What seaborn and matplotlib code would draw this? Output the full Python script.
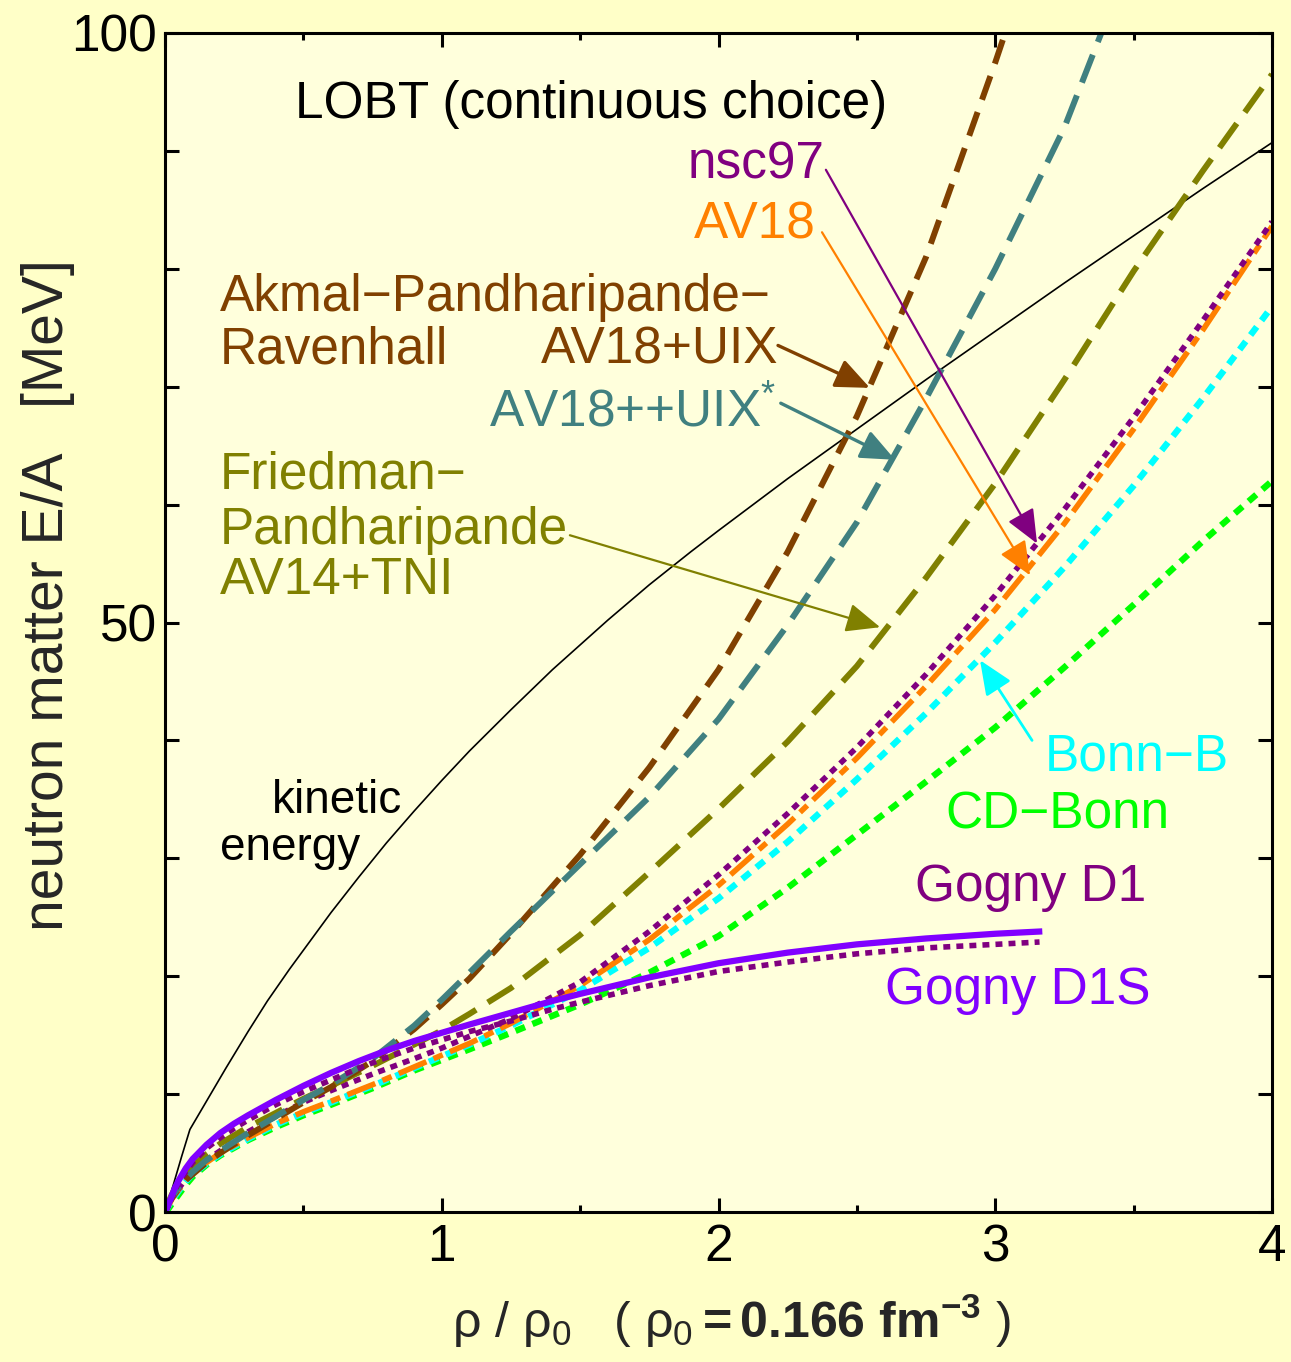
import matplotlib
matplotlib.use("Agg")
import matplotlib.pyplot as plt
import seaborn as sns
import pandas as pd

# ---------------- data ----------------
kin_x = [0, 0.03, 0.06, 0.09, 0.15, 0.22, 0.3, 0.37, 0.45, 0.5, 0.6, 0.7, 0.8, 0.9, 1.0, 1.1, 1.25,
         1.4, 1.5, 1.6, 1.75, 1.9, 2.0, 2.25, 2.5, 2.75, 3.0, 3.25, 3.5, 3.75, 4.0]
kin_y = [0, 2.3, 4.7, 7.0, 9.4, 12.2, 15.3, 17.9, 20.6, 22.2, 25.4, 28.4, 31.3, 34.0, 36.6, 39.1, 42.6,
         46.0, 48.1, 50.2, 53.2, 56.0, 57.8, 62.2, 66.4, 70.6, 74.7, 78.8, 82.8, 86.8, 90.7]

grid_x = [0, 0.01, 0.025, 0.05, 0.075, 0.1, 0.15, 0.2, 0.3, 0.4, 0.5, 0.6, 0.75, 0.9, 1.0, 1.1, 1.25,
          1.5, 1.75, 2.0, 2.25, 2.5, 2.75, 3.0, 3.25, 3.5, 3.75, 4.0]

apr_x = [0, 0.01, 0.025, 0.05, 0.075, 0.1, 0.15, 0.2, 0.3, 0.4, 0.5, 0.6, 0.75, 0.9, 1.0, 1.1, 1.25,
         1.5, 1.75, 2.0, 2.25, 2.5, 2.75, 3.0, 3.05]
apr_y = [0, 0.6, 1.2, 2.0, 2.7, 3.2, 4.2, 5.0, 6.5, 7.9, 9.3, 10.6, 12.8, 15.5, 17.6, 19.8, 23.6,
         30.3, 37.7, 46.0, 56.0, 67.5, 81.0, 97.5, 101.0]

av18s_x = [0, 0.01, 0.025, 0.05, 0.075, 0.1, 0.15, 0.2, 0.3, 0.4, 0.5, 0.6, 0.75, 0.9, 1.0, 1.1, 1.25,
           1.5, 1.75, 2.0, 2.25, 2.5, 2.75, 3.0, 3.25, 3.4]
av18s_y = [0, 0.6, 1.3, 2.1, 2.8, 3.4, 4.4, 5.2, 6.7, 8.1, 9.5, 10.8, 13.0, 15.8, 18.0, 20.3, 23.8,
           29.5, 35.2, 41.8, 49.8, 58.5, 69.0, 80.0, 92.0, 101.0]

fp_x = grid_x
fp_y = [0, 0.7, 1.5, 2.4, 3.2, 3.9, 4.9, 5.8, 7.2, 8.4, 9.6, 10.7, 12.4, 14.2, 15.4, 16.8, 19.0,
        23.5, 28.8, 34.2, 39.9, 46.3, 53.8, 61.8, 70.6, 79.8, 88.3, 96.5]

nsc_x = grid_x
nsc_y = [0, 0.5, 1.2, 2.0, 2.8, 3.5, 4.4, 5.2, 6.8, 8.1, 9.3, 10.3, 11.7, 13.0, 13.9, 14.9, 16.4,
         19.5, 23.8, 28.6, 33.8, 39.4, 45.6, 52.3, 59.6, 67.4, 75.6, 84.0]

av18_x = grid_x
av18_y = [0, 0.4, 1.1, 1.9, 2.7, 3.3, 4.2, 5.0, 6.3, 7.5, 8.5, 9.4, 10.8, 12.3, 13.3, 14.3, 16.0,
          19.2, 23.1, 27.7, 32.9, 38.5, 44.6, 51.1, 58.4, 66.4, 74.8, 83.6]

bonnb_x = grid_x
bonnb_y = [0, 0.4, 1.0, 1.8, 2.6, 3.2, 4.1, 4.9, 6.2, 7.4, 8.4, 9.3, 10.7, 12.2, 13.2, 14.2, 15.8,
           18.8, 22.4, 26.6, 31.4, 36.7, 42.3, 48.3, 54.7, 61.6, 69.0, 76.8]

cdb_x = grid_x
cdb_y = [0, 0.2, 0.7, 1.5, 2.3, 3.0, 4.0, 4.8, 6.1, 7.2, 8.2, 9.1, 10.5, 12.0, 12.9, 13.8, 15.2,
         17.6, 20.3, 23.4, 27.5, 32.0, 36.5, 41.1, 46.2, 51.5, 56.9, 62.0]

d1s_x = [0, 0.01, 0.02, 0.035, 0.05, 0.075, 0.1, 0.15, 0.2, 0.25, 0.3, 0.4, 0.5, 0.6, 0.7, 0.8, 0.9,
         1.0, 1.1, 1.25, 1.4, 1.5, 1.75, 2.0, 2.25, 2.5, 2.75, 3.0, 3.17]
d1s_y = [0, 0.5, 1.1, 2.0, 2.7, 3.7, 4.5, 5.7, 6.7, 7.5, 8.2, 9.5, 10.7, 11.8, 12.8, 13.7, 14.5,
         15.2, 15.9, 16.9, 17.9, 18.5, 19.9, 21.1, 22.0, 22.7, 23.2, 23.6, 23.8]

d1_x = [0, 0.01, 0.02, 0.035, 0.05, 0.075, 0.1, 0.15, 0.2, 0.25, 0.3, 0.4, 0.5, 0.6, 0.7, 0.8, 0.9,
        1.0, 1.1, 1.25, 1.4, 1.5, 1.75, 2.0, 2.25, 2.5, 2.75, 3.0, 3.16]
d1_y = [0, 0.4, 0.9, 1.8, 2.5, 3.4, 4.2, 5.4, 6.3, 7.1, 7.8, 9.1, 10.2, 11.2, 12.2, 13.1, 13.9,
        14.6, 15.3, 16.2, 17.2, 17.8, 19.2, 20.4, 21.2, 21.9, 22.4, 22.7, 22.9]

x_ticks = [0, 1, 2, 3, 4]
x_minor = [0.5, 1.5, 2.5, 3.5]
y_ticks = [0, 50, 100]
y_minor = [10, 20, 30, 40, 60, 70, 80, 90]

# ---------------- style ----------------
sns.set_style("ticks")
plt.rcParams['font.family'] = ['Liberation Sans', 'DejaVu Sans']
plt.rcParams['mathtext.fontset'] = 'custom'
plt.rcParams['mathtext.rm'] = 'Liberation Sans'
plt.rcParams['mathtext.it'] = 'Liberation Sans:italic'
plt.rcParams['mathtext.bf'] = 'Liberation Sans:bold'

FIG_BG = '#FFFFC8'
AX_BG = '#FFFFDC'

fig = plt.figure(figsize=(12.91, 13.62), dpi=100, facecolor=FIG_BG)
ax = fig.add_axes([165/1291, 1 - 1212/1362, (1272-165)/1291, (1212-33)/1362])
ax.set_facecolor(AX_BG)

def draw(xs, ys, color, lw, dashes=None):
    df = pd.DataFrame({'x': xs, 'y': ys})
    sns.lineplot(data=df, x='x', y='y', ax=ax, color=color, linewidth=lw,
                 sort=False, estimator=None, legend=False)
    ln = ax.lines[-1]
    if dashes is not None:
        ln.set_dashes(dashes)
    ln.set_dash_capstyle('butt')
    ln.set_solid_capstyle('butt')
    ln.set_solid_joinstyle('round')
    return ln

draw(kin_x, kin_y, 'black', 1.2)
draw(cdb_x, cdb_y, '#00FF00', 4.6, (1.6, 1.25))
draw(bonnb_x, bonnb_y, '#00FFFF', 4.6, (1.6, 1.25))
draw(av18_x, av18_y, '#FF8000', 4.0, (5.4, 1.4, 1.8, 1.4))
draw(nsc_x, nsc_y, '#800080', 4.0, (1.25, 1.1))
draw(fp_x, fp_y, '#808000', 4.3, (5.0, 2.3))
draw(apr_x, apr_y, '#804000', 4.3, (4.2, 2.2))
draw(av18s_x, av18s_y, '#408080', 4.3, (5.0, 2.3))
draw(d1_x, d1_y, '#800080', 4.0, (1.25, 1.1))
draw(d1s_x, d1s_y, '#8000FF', 4.5)

ax.set_xlim(0, 4)
ax.set_ylim(0, 100)
ax.set_xticks(x_ticks)
ax.set_xticks(x_minor, minor=True)
ax.set_yticks(y_ticks)
ax.set_yticks(y_minor, minor=True)
ax.set_xticklabels([str(t) for t in x_ticks])
ax.set_yticklabels([str(t) for t in y_ticks])
ax.tick_params(which='both', direction='in', top=True, right=True, width=2.2, colors='black')
ax.tick_params(axis='x', which='major', length=10, labelsize=37, pad=8)
ax.tick_params(axis='x', which='minor', length=5)
ax.tick_params(axis='y', which='both', length=10, labelsize=37, pad=6)
for s in ax.spines.values():
    s.set_linewidth(2.2)
    s.set_color('black')
ax.set_xlabel('')
ax.set_ylabel('')

ax.text(-0.106, 0.523, 'neutron matter E/A   [MeV]', rotation=90, transform=ax.transAxes,
        ha='center', va='center', fontsize=41)
ax.text(0.512, -0.092, r'$\mathrm{ρ\ /\ ρ_0\ \ \ (\ ρ_0}\mathbf{=0.166\ fm^{-3}}\mathrm{\ )}$',
        transform=ax.transAxes, ha='center', va='center', fontsize=36)

FS = 37
def label(x, y, s, color, ha='left', fs=FS):
    ax.text(x, y, s, color=color, fontsize=fs, ha=ha, va='center')

label(1.54, 93.9, 'LOBT (continuous choice)', 'black', 'center')
label(2.385, 88.8, 'nsc97', '#800080', 'right')
label(2.35, 83.7, 'AV18', '#FF8000', 'right')
label(0.199, 77.6, 'Akmal\u2212Pandharipande\u2212', '#804000')
label(0.199, 73.1, 'Ravenhall', '#804000')
label(2.215, 73.1, 'AV18+UIX', '#804000', 'right')
label(2.21, 67.8, r'AV18++UIX$^{*}$', '#408080', 'right')
label(0.199, 62.5, 'Friedman\u2212', '#808000')
label(0.199, 57.8, 'Pandharipande', '#808000')
label(0.199, 53.6, 'AV14+TNI', '#808000')
label(0.387, 34.9, 'kinetic', 'black', fs=33)
label(0.199, 30.9, 'energy', 'black', fs=33)
label(3.18, 38.6, 'Bonn\u2212B', '#00FFFF')
label(2.818, 33.7, 'CD\u2212Bonn', '#00FF00')
label(2.71, 27.5, 'Gogny D1', '#800080')
label(2.60, 18.8, 'Gogny D1S', '#8000FF')

def arrow(x0, y0, x1, y1, color, lw):
    ax.annotate('', xy=(x1, y1), xytext=(x0, y0),
                arrowprops=dict(arrowstyle='-|>,head_length=0.7,head_width=0.3',
                                color=color, lw=lw, shrinkA=0, shrinkB=0,
                                mutation_scale=30))

arrow(2.388, 88.4, 3.151, 56.7, '#800080', 1.6)
arrow(2.374, 83.1, 3.126, 54.0, '#FF8000', 1.6)
arrow(2.215, 73.5, 2.547, 69.9, '#804000', 2.4)
arrow(2.225, 68.6, 2.638, 63.8, '#408080', 2.4)
arrow(1.463, 57.4, 2.584, 49.6, '#808000', 1.6)
arrow(3.133, 40.0, 2.945, 46.8, '#00FFFF', 2.0)

fig.savefig('out.png', dpi=100, facecolor=FIG_BG)
